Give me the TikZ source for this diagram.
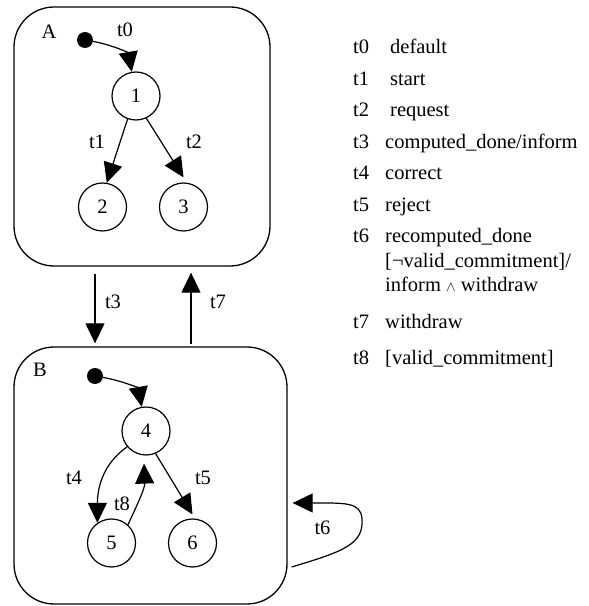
\documentclass[tikz,border=0pt]{standalone}
\usepackage{fontspec}
\setmainfont{Liberation Serif}
\usetikzlibrary{arrows.meta}

\tikzset{
  state/.style={circle, draw, line width=1.2pt, minimum size=48pt, inner sep=0pt},
  superstate/.style={draw, line width=1.3pt, rounded corners=40pt, inner sep=0pt},
  initial/.style={circle, fill, minimum size=16pt, inner sep=0pt},
  trans/.style={-{Triangle[length=20pt,width=19pt]}, line width=1.2pt},
  legend/.style={anchor=base west, inner sep=0pt},
}

\begin{document}
\begin{tikzpicture}[x=1pt,y=1pt,font=\fontsize{20.5}{24}\selectfont]
\useasboundingbox (0,0) rectangle (589,606);
% superstates
\node[superstate, minimum width=256pt, minimum height=259pt] (A) at (142,469.5) {};
\node[superstate, minimum width=273pt, minimum height=257pt] (B) at (150.5,130.5) {};
\node (la) at (49,574) {A};
\node (lb) at (40,236) {B};
% states in A
\node[initial] (i0) at (85,566) {};
\node[state] (n1) at (136,510) {1};
\node[state] (n2) at (102.5,399) {2};
\node[state] (n3) at (183.5,399) {3};
\draw[trans] (i0) to[out=-10,in=100] (n1);
\draw[trans] (n1.-110) -- (n2.80);
\draw[trans] (n1.-65) -- ([yshift=5pt]n3.north);
\node (t0) at (125,576) {t0};
\node (t1) at (97,464) {t1};
\node (t2) at (194,464) {t2};
% states in B
\node[initial] (i1) at (95,230) {};
\node[state] (n4) at (146,175) {4};
\node[state] (n5) at (111.5,63) {5};
\node[state] (n6) at (192.5,63) {6};
\draw[trans] (i1) to[out=-10,in=100] (n4);
\draw[trans] (n4.220) to[out=215,in=90] (n5.125);
\draw[trans] (n5.48) to[out=65,in=-88] ([shift={(-2pt,-8pt)}]n4.south);
\draw[trans] (n4.-67) -- ([yshift=4pt]n6.north);
\node (t4) at (74,128) {t4};
\node (t5) at (203,128) {t5};
\node (t8) at (122,102.5) {t8};
% between superstates
\draw[trans] ([shift={(-47pt,-7pt)}]A.south) -- ([shift={(-55.5pt,3pt)}]B.north);
\draw[trans] ([shift={(40.5pt,2pt)}]B.north) -- ([shift={(49pt,-6pt)}]A.south);
\node (t3) at (113,304) {t3};
\node (t7) at (218,304) {t7};
% self loop on B
\coordinate (s6) at ([shift={(4pt,-91.5pt)}]B.east);
\coordinate (e6) at ([shift={(5pt,-27.5pt)}]B.east);
\draw[trans] (s6) .. controls (345,55) and (364,62) .. (362,88)
  .. controls (360,104) and (345,103) .. (e6);
\node (t6) at (322.5,78) {t6};
% legend
\foreach \k/\y/\dx/\txt in {t0/552/390/default, t1/520.5/390/start,
    t2/489/390/request, t3/457.5/385/{computed\_done/inform},
    t4/426/385/correct, t5/394.5/385/reject, t6/363/385/recomputed\_done,
    t7/277/385/withdraw, t8/241/385/{[valid\_commitment]}}{
  \node[legend] (k\k) at (353,\y) {\k};
  \node[legend] (d\k) at (\dx,\y) {\txt};
}
\node[legend] (d6b) at (385,338.5) {[¬valid\_commitment]/};
\node[legend] (d6c) at (385,314) {inform $\scriptstyle\wedge$ withdraw};
\end{tikzpicture}
\end{document}
